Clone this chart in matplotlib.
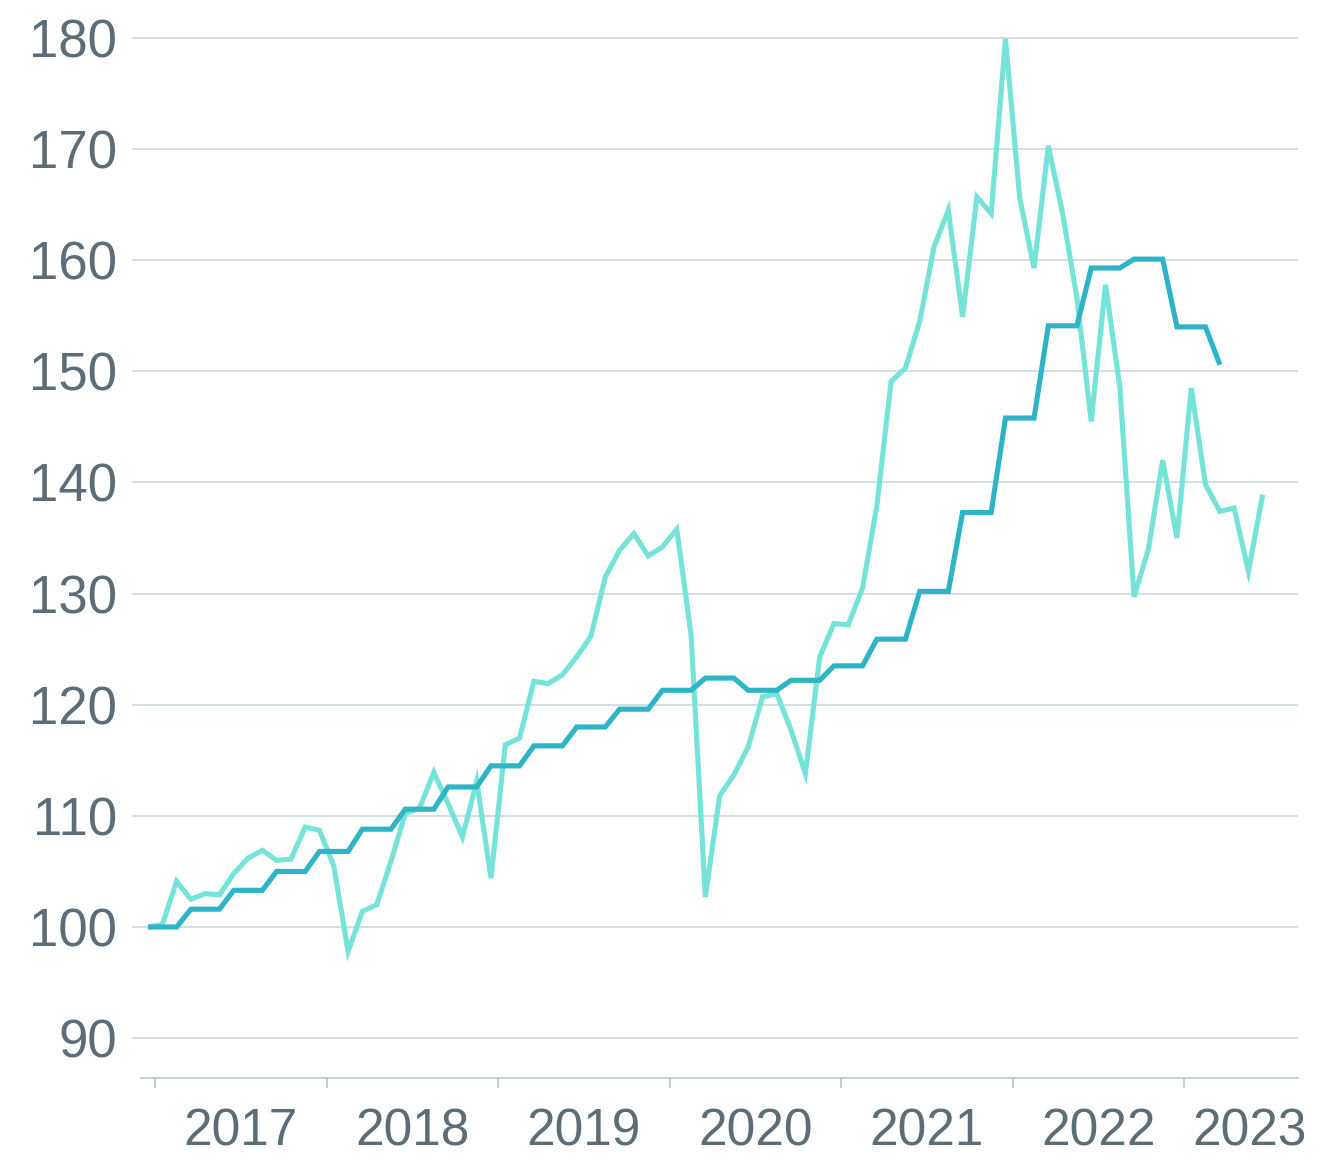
import matplotlib
matplotlib.use("Agg")
import matplotlib.pyplot as plt
import numpy as np

# Monthly index (Jan 2017 = 0)
light_values = [
    100.0, 100.2, 104.1, 102.5, 103.0, 102.9, 104.8, 106.2, 106.9, 106.0, 106.1, 109.0,
    108.7, 105.5, 97.8, 101.4, 102.0, 105.9, 110.2, 110.7, 113.9, 111.1, 108.1, 113.1,
    104.4, 116.4, 117.0, 122.1, 121.9, 122.7, 124.3, 126.2, 131.5, 133.9, 135.4, 133.4,
    134.2, 135.8, 126.3, 102.7, 111.8, 113.7, 116.2, 120.7, 121.0, 117.7, 113.8, 124.3,
    127.3, 127.2, 130.5, 137.9, 149.1, 150.3, 154.5, 161.2, 164.5, 154.9, 165.7, 164.2,
    179.9, 165.6, 159.3, 170.3, 164.2, 156.6, 145.5, 157.8, 148.6, 129.7, 134.0, 142.0,
    135.0, 148.5, 139.8, 137.4, 137.7, 132.0, 138.9,
]
dark_values = [
    100.0, 100.0, 100.0, 101.6, 101.6, 101.6, 103.3, 103.3, 103.3, 105.0, 105.0, 105.0,
    106.8, 106.8, 106.8, 108.8, 108.8, 108.8, 110.6, 110.6, 110.6, 112.6, 112.6, 112.6,
    114.5, 114.5, 114.5, 116.3, 116.3, 116.3, 118.0, 118.0, 118.0, 119.6, 119.6, 119.6,
    121.3, 121.3, 121.3, 122.4, 122.4, 122.4, 121.3, 121.3, 121.3, 122.2, 122.2, 122.2,
    123.5, 123.5, 123.5, 125.9, 125.9, 125.9, 130.2, 130.2, 130.2, 137.3, 137.3, 137.3,
    145.8, 145.8, 145.8, 154.1, 154.1, 154.1, 159.3, 159.3, 159.3, 160.1, 160.1, 160.1,
    154.0, 154.0, 154.0, 150.6,
]
year_labels = ["2017", "2018", "2019", "2020", "2021", "2022", "2023"]
year_ticks = [0.5, 12.5, 24.5, 36.5, 48.5, 60.5, 72.5]
label_positions = [6.5, 18.5, 30.5, 42.5, 54.5, 66.5, 77.1]
y_ticks = [90, 100, 110, 120, 130, 140, 150, 160, 170, 180]

LIGHT = "#76e3d9"
DARK = "#2db4c6"
TEXT = "#5d6d78"
GRID = "#c9d6da"
AXIS = "#b2c5ca"

plt.rcParams["font.family"] = ["Liberation Sans", "DejaVu Sans"]

W, H = 1323, 1158
fig = plt.figure(figsize=(W / 100, H / 100), dpi=100)
left, right, top, bottom = 132, 1298, 30, 1078
ax = fig.add_axes([left / W, 1 - bottom / H, (right - left) / W, (bottom - top) / H])

x_light = np.arange(len(light_values))
x_dark = np.arange(len(dark_values))
ax.plot(x_light, light_values, color=LIGHT, lw=3.7, solid_joinstyle="miter",
        solid_capstyle="butt", zorder=3)
ax.plot(x_dark, dark_values, color=DARK, lw=3.7, solid_joinstyle="miter",
        solid_capstyle="butt", zorder=4)

ax.set_xlim(-1.12, 80.47)
ax.set_ylim(86.41, 180.72)

ax.set_yticks(y_ticks)
ax.set_yticklabels([str(v) for v in y_ticks])
ax.tick_params(axis="y", length=0, pad=10.8, labelsize=38, labelcolor=TEXT)
ax.yaxis.grid(True, color=GRID, lw=1.1)
ax.set_axisbelow(True)

ax.set_xticks(year_ticks)
ax.set_xticklabels([""] * len(year_ticks))
ax.tick_params(axis="x", which="major", length=7.5, width=1.2, color=AXIS)
ax.set_xticks(label_positions, minor=True)
ax.set_xticklabels(year_labels, minor=True)
ax.tick_params(axis="x", which="minor", length=0, pad=21, labelsize=37, labelcolor=TEXT)

for s in ["top", "right", "left"]:
    ax.spines[s].set_visible(False)
ax.spines["bottom"].set_color(AXIS)
ax.spines["bottom"].set_linewidth(1.1)
ax.spines["bottom"].set_bounds(-0.49, 80.47)

fig.savefig("out.png", dpi=100, facecolor="white")
